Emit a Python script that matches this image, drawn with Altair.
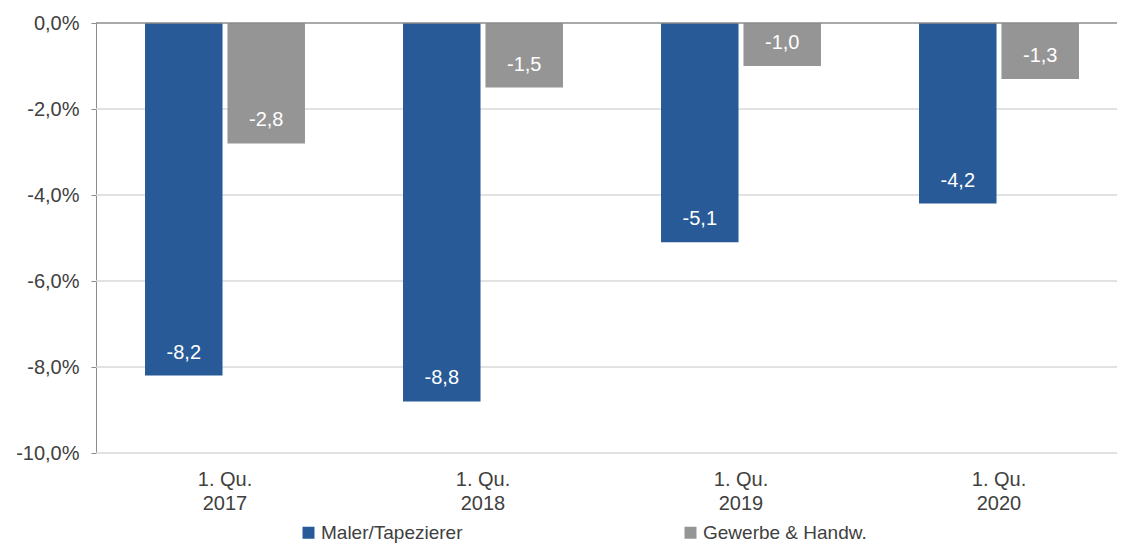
import altair as alt
import pandas as pd

quarters = ["1. Qu.\n2017", "1. Qu.\n2018", "1. Qu.\n2019", "1. Qu.\n2020"]
series = ["Maler/Tapezierer", "Gewerbe & Handw."]
maler = [-8.2, -8.8, -5.1, -4.2]
gewerbe = [-2.8, -1.5, -1.0, -1.3]
colors = ["#285A98", "#959595"]
grid_values = [-2, -4, -6, -8, -10]
tick_values = [0, -2, -4, -6, -8, -10]

rows = []
for q, m, g in zip(quarters, maler, gewerbe):
    rows.append({"q": q, "s": series[0], "v": m})
    rows.append({"q": q, "s": series[1], "v": g})
df = pd.DataFrame(rows)

FONT = "Liberation Sans"
W, H = 1021, 430

base = alt.Chart(df)

x = alt.X("q:N", sort=quarters, title=None,
          scale=alt.Scale(paddingInner=0.38, paddingOuter=0.19, range=[0, 1032]),
          axis=alt.Axis(labelAngle=0, domain=False, ticks=False, labelPadding=16,
                        labelExpr="split(datum.label, '\\n')", labelLineHeight=24,
                        labelFontSize=20, labelColor="#404040", labelFont=FONT))
y = alt.Y("v:Q", title=None,
          scale=alt.Scale(domain=[-10, 0], nice=False),
          axis=alt.Axis(values=tick_values, grid=False,
                        domainColor="#8c8c8c", tickColor="#8c8c8c", tickSize=5,
                        labelPadding=12, labelFontSize=20, labelColor="#404040", labelFont=FONT,
                        labelExpr="replace(replace(format(datum.value, '.1f'), '.', ','), '\u2212', '-') + '%'"))

grid = alt.Chart(pd.DataFrame({"g": grid_values})).mark_rule(color="#d9d9d9", strokeWidth=1.5).encode(
    y=alt.Y("g:Q"), x=alt.value(0), x2=alt.value(W)
)

bars = base.mark_bar().encode(
    x=x, y=y,
    xOffset=alt.XOffset("s:N", sort=series, scale=alt.Scale(paddingInner=0.06)),
    color=alt.Color("s:N", sort=series, scale=alt.Scale(domain=series, range=colors),
                    legend=alt.Legend(title=None, orient="none", legendX=203, legendY=500,
                                      direction="horizontal", columns=2, columnPadding=218,
                                      symbolType="square", symbolSize=144, symbolStrokeWidth=0,
                                      labelFontSize=19, labelColor="#404040", labelFont=FONT,
                                      labelOffset=3, labelLimit=300)),
)

labels = base.transform_calculate(
    t="replace(replace(format(datum.v, '.1f'), '.', ','), '\u2212', '-')"
).mark_text(color="white", fontSize=20, font=FONT, baseline="middle", dy=-23).encode(
    x=alt.X("q:N", sort=quarters),
    y=alt.Y("v:Q"),
    xOffset=alt.XOffset("s:N", sort=series),
    text="t:N",
)

zero = alt.Chart(pd.DataFrame({"z": [0]})).mark_rule(color="#8c8c8c", strokeWidth=1.5).encode(
    y=alt.Y("z:Q"), x=alt.value(0), x2=alt.value(W)
)

chart = alt.layer(grid, bars, labels, zero).properties(
    width=W, height=H,
    padding={"left": 88, "top": 15, "right": 0, "bottom": 96},
    autosize=alt.AutoSizeParams(type="none"),
).configure_view(stroke=None)

chart.save("out.html", embed_options={"renderer": "svg", "actions": False})
